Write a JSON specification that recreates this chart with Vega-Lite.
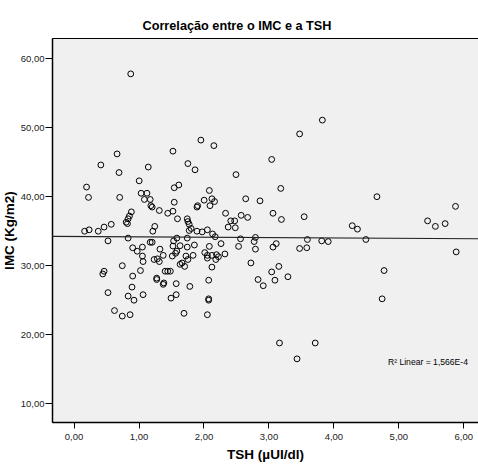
{
  "$schema": "https://vega.github.io/schema/vega-lite/v6.json",
  "autosize": "none",
  "width": 426,
  "height": 384,
  "padding": {"left": 52, "top": 38, "right": 0, "bottom": 42},
  "background": "white",
  "title": {
    "text": "Correlação entre o IMC e a TSH",
    "font": "Liberation Sans, Arial, sans-serif",
    "fontSize": 12.7,
    "fontWeight": "bold",
    "color": "black",
    "anchor": "middle",
    "dx": -28,
    "offset": 5
  },
  "datasets": {
    "pacientes": [
      {"tsh": 0.88, "imc": 57.7}, {"tsh": 0.67, "imc": 46.1}, {"tsh": 0.42, "imc": 44.5}, {"tsh": 0.70, "imc": 43.4},
      {"tsh": 1.15, "imc": 44.2}, {"tsh": 1.53, "imc": 46.5}, {"tsh": 1.01, "imc": 42.2}, {"tsh": 0.20, "imc": 41.3},
      {"tsh": 1.04, "imc": 40.4}, {"tsh": 1.13, "imc": 40.4}, {"tsh": 1.55, "imc": 41.2}, {"tsh": 1.62, "imc": 41.6},
      {"tsh": 1.96, "imc": 48.1}, {"tsh": 2.16, "imc": 47.3}, {"tsh": 1.76, "imc": 44.7}, {"tsh": 1.87, "imc": 43.8},
      {"tsh": 2.50, "imc": 43.1}, {"tsh": 3.05, "imc": 45.3}, {"tsh": 3.48, "imc": 49.0}, {"tsh": 2.09, "imc": 40.8},
      {"tsh": 3.19, "imc": 41.1}, {"tsh": 3.83, "imc": 51.0}, {"tsh": 4.67, "imc": 39.9}, {"tsh": 5.88, "imc": 38.5},
      {"tsh": 5.45, "imc": 36.4}, {"tsh": 5.57, "imc": 35.6}, {"tsh": 5.72, "imc": 36.0}, {"tsh": 5.89, "imc": 31.9},
      {"tsh": 4.29, "imc": 35.7}, {"tsh": 4.37, "imc": 35.2}, {"tsh": 4.50, "imc": 33.7}, {"tsh": 4.78, "imc": 29.2},
      {"tsh": 4.75, "imc": 25.1}, {"tsh": 3.55, "imc": 37.0}, {"tsh": 3.20, "imc": 36.6}, {"tsh": 3.07, "imc": 37.5},
      {"tsh": 3.60, "imc": 33.7}, {"tsh": 3.59, "imc": 32.5}, {"tsh": 3.48, "imc": 32.4}, {"tsh": 3.82, "imc": 33.5},
      {"tsh": 3.92, "imc": 33.4}, {"tsh": 2.87, "imc": 39.3}, {"tsh": 2.65, "imc": 39.6}, {"tsh": 2.01, "imc": 39.4},
      {"tsh": 2.13, "imc": 39.6}, {"tsh": 2.17, "imc": 39.2}, {"tsh": 2.10, "imc": 38.6}, {"tsh": 2.34, "imc": 37.5},
      {"tsh": 2.42, "imc": 36.4}, {"tsh": 2.48, "imc": 36.4}, {"tsh": 2.38, "imc": 35.5}, {"tsh": 2.49, "imc": 35.4},
      {"tsh": 2.58, "imc": 37.2}, {"tsh": 2.68, "imc": 36.9}, {"tsh": 3.07, "imc": 32.6}, {"tsh": 3.12, "imc": 33.1},
      {"tsh": 2.57, "imc": 33.8}, {"tsh": 2.80, "imc": 34.0}, {"tsh": 2.78, "imc": 33.4}, {"tsh": 2.80, "imc": 32.3},
      {"tsh": 2.54, "imc": 32.7}, {"tsh": 2.73, "imc": 30.3}, {"tsh": 3.05, "imc": 29.0}, {"tsh": 3.16, "imc": 29.8},
      {"tsh": 3.10, "imc": 27.8}, {"tsh": 3.30, "imc": 28.3}, {"tsh": 2.84, "imc": 27.9}, {"tsh": 2.92, "imc": 27.0},
      {"tsh": 1.98, "imc": 34.8}, {"tsh": 2.06, "imc": 35.1}, {"tsh": 2.14, "imc": 34.5}, {"tsh": 2.18, "imc": 34.1},
      {"tsh": 2.27, "imc": 33.1}, {"tsh": 2.09, "imc": 32.7}, {"tsh": 2.02, "imc": 31.8}, {"tsh": 2.06, "imc": 31.4},
      {"tsh": 2.06, "imc": 31.0}, {"tsh": 2.13, "imc": 31.4}, {"tsh": 2.20, "imc": 31.5}, {"tsh": 2.19, "imc": 30.8},
      {"tsh": 2.23, "imc": 31.2}, {"tsh": 2.33, "imc": 31.6}, {"tsh": 2.13, "imc": 29.7}, {"tsh": 2.08, "imc": 27.8},
      {"tsh": 2.08, "imc": 25.1}, {"tsh": 3.17, "imc": 18.7}, {"tsh": 3.72, "imc": 18.7}, {"tsh": 3.44, "imc": 16.4},
      {"tsh": 0.53, "imc": 26.0}, {"tsh": 0.63, "imc": 23.4}, {"tsh": 0.75, "imc": 22.6}, {"tsh": 0.87, "imc": 22.8},
      {"tsh": 0.90, "imc": 26.8}, {"tsh": 0.84, "imc": 25.5}, {"tsh": 0.93, "imc": 24.9}, {"tsh": 1.07, "imc": 25.7},
      {"tsh": 1.28, "imc": 27.9}, {"tsh": 1.38, "imc": 27.2}, {"tsh": 1.50, "imc": 25.2}, {"tsh": 1.58, "imc": 25.7},
      {"tsh": 1.58, "imc": 27.3}, {"tsh": 1.79, "imc": 26.9}, {"tsh": 1.70, "imc": 23.0}, {"tsh": 2.06, "imc": 22.8},
      {"tsh": 2.08, "imc": 24.9}, {"tsh": 0.23, "imc": 39.8}, {"tsh": 0.71, "imc": 39.8}, {"tsh": 1.09, "imc": 39.5},
      {"tsh": 1.18, "imc": 39.5}, {"tsh": 1.19, "imc": 38.6}, {"tsh": 1.21, "imc": 38.4}, {"tsh": 1.32, "imc": 37.9},
      {"tsh": 1.55, "imc": 39.1}, {"tsh": 1.53, "imc": 37.8}, {"tsh": 1.45, "imc": 37.5}, {"tsh": 1.60, "imc": 36.7},
      {"tsh": 0.89, "imc": 37.7}, {"tsh": 0.86, "imc": 37.1}, {"tsh": 0.84, "imc": 36.7}, {"tsh": 0.81, "imc": 36.2},
      {"tsh": 0.83, "imc": 36.0}, {"tsh": 0.17, "imc": 34.9}, {"tsh": 0.24, "imc": 35.1}, {"tsh": 0.38, "imc": 34.9},
      {"tsh": 0.47, "imc": 35.5}, {"tsh": 0.58, "imc": 35.9}, {"tsh": 1.25, "imc": 35.6}, {"tsh": 1.22, "imc": 34.9},
      {"tsh": 0.53, "imc": 33.5}, {"tsh": 0.84, "imc": 33.9}, {"tsh": 0.91, "imc": 32.5}, {"tsh": 0.98, "imc": 32.0},
      {"tsh": 1.06, "imc": 32.6}, {"tsh": 1.18, "imc": 33.3}, {"tsh": 1.21, "imc": 33.3}, {"tsh": 1.06, "imc": 31.3},
      {"tsh": 1.07, "imc": 30.5}, {"tsh": 1.33, "imc": 32.3}, {"tsh": 1.38, "imc": 31.4}, {"tsh": 1.24, "imc": 30.8},
      {"tsh": 1.32, "imc": 30.5}, {"tsh": 1.29, "imc": 30.9}, {"tsh": 1.54, "imc": 33.5}, {"tsh": 1.59, "imc": 32.0},
      {"tsh": 1.57, "imc": 31.7}, {"tsh": 1.52, "imc": 31.3}, {"tsh": 0.75, "imc": 29.9}, {"tsh": 0.47, "imc": 29.1},
      {"tsh": 0.45, "imc": 28.7}, {"tsh": 0.91, "imc": 28.4}, {"tsh": 1.03, "imc": 29.2}, {"tsh": 1.41, "imc": 29.1},
      {"tsh": 1.45, "imc": 29.1}, {"tsh": 1.49, "imc": 29.1}, {"tsh": 1.28, "imc": 28.1}, {"tsh": 1.39, "imc": 27.4},
      {"tsh": 1.91, "imc": 38.6}, {"tsh": 1.90, "imc": 38.4}, {"tsh": 1.75, "imc": 36.7}, {"tsh": 1.76, "imc": 36.3},
      {"tsh": 1.78, "imc": 35.9}, {"tsh": 1.78, "imc": 35.0}, {"tsh": 1.81, "imc": 35.3}, {"tsh": 1.90, "imc": 34.9},
      {"tsh": 1.59, "imc": 33.9}, {"tsh": 1.64, "imc": 32.8}, {"tsh": 1.53, "imc": 32.75}, {"tsh": 1.75, "imc": 32.6},
      {"tsh": 1.73, "imc": 31.3}, {"tsh": 1.84, "imc": 31.4}, {"tsh": 1.86, "imc": 32.9}, {"tsh": 1.64, "imc": 30.1},
      {"tsh": 1.71, "imc": 29.8}, {"tsh": 1.67, "imc": 30.3}, {"tsh": 1.75, "imc": 33.9}, {"tsh": 1.76, "imc": 30.8}
    ],
    "ajuste": [
      {"tsh": -0.332, "imc": 34.14},
      {"tsh": 6.226, "imc": 33.81}
    ],
    "nota": [
      {"tsh": 4.84, "imc": 16.0, "texto": "R² Linear = 1,566E-4"}
    ]
  },
  "encoding": {
    "x": {
      "field": "tsh",
      "type": "quantitative",
      "scale": {"domain": [-0.332, 6.226], "nice": false, "zero": false},
      "axis": {
        "title": "TSH (µUI/dl)",
        "values": [0, 1, 2, 3, 4, 5, 6],
        "labelExpr": "replace(format(datum.value, '.2f'), '.', ',')",
        "tickSize": 6,
        "labelPadding": 3,
        "titlePadding": 7
      }
    },
    "y": {
      "field": "imc",
      "type": "quantitative",
      "scale": {"domain": [7.25, 62.9], "nice": false, "zero": false},
      "axis": {
        "title": "IMC (Kg/m2)",
        "values": [10, 20, 30, 40, 50, 60],
        "labelExpr": "replace(format(datum.value, '.2f'), '.', ',')",
        "tickSize": 7,
        "labelPadding": 1,
        "titlePadding": 4
      }
    }
  },
  "layer": [
    {
      "data": {"name": "pacientes"},
      "mark": {"type": "point", "shape": "circle", "filled": false, "stroke": "black", "strokeWidth": 1, "size": 34, "opacity": 1}
    },
    {
      "data": {"name": "ajuste"},
      "mark": {"type": "line", "color": "#222222", "strokeWidth": 1.2}
    },
    {
      "data": {"name": "nota"},
      "mark": {"type": "text", "align": "left", "baseline": "middle", "fontSize": 8.6, "font": "Liberation Sans, Arial, sans-serif", "color": "black"},
      "encoding": {"text": {"field": "texto"}}
    }
  ],
  "config": {
    "view": {"fill": "#F0F0F0", "stroke": "black", "strokeWidth": 1},
    "axis": {
      "grid": false,
      "domainColor": "black",
      "domainWidth": 1.5,
      "tickColor": "black",
      "tickWidth": 1,
      "labelFont": "Liberation Sans, Arial, sans-serif",
      "labelFontSize": 9.5,
      "labelColor": "#222222",
      "titleFont": "Liberation Sans, Arial, sans-serif",
      "titleFontSize": 13.5,
      "titleFontWeight": "bold",
      "titleColor": "black"
    }
  }
}
